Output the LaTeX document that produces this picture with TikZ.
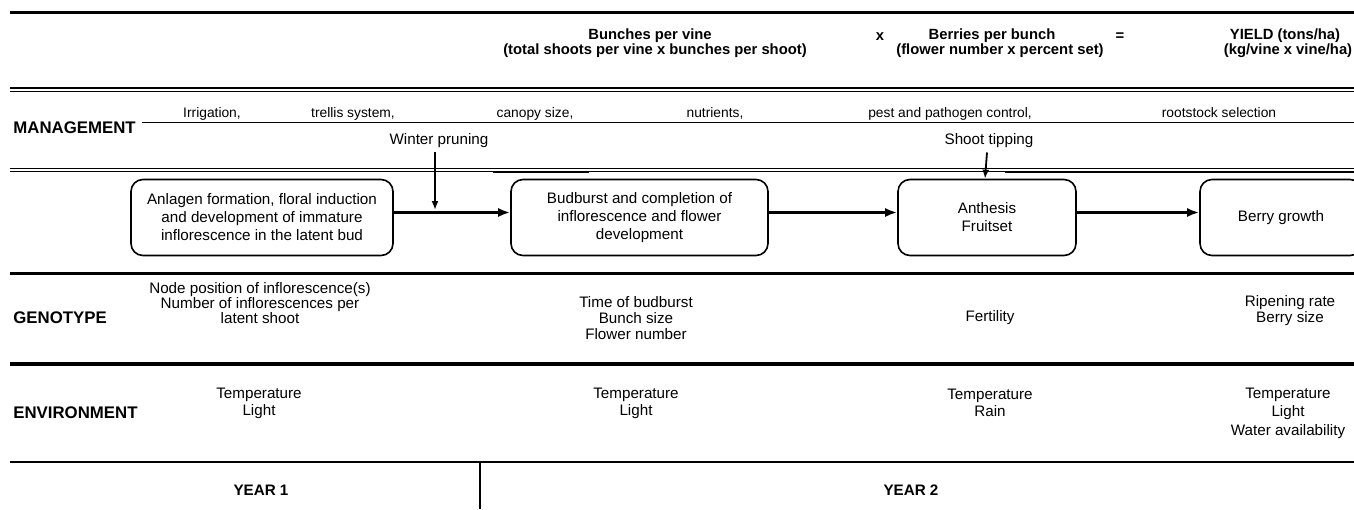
\documentclass[tikz,border=0pt]{standalone}
\usepackage{fontspec}
\setmainfont{Liberation Sans}
\usepackage{tikz}
\usetikzlibrary{arrows.meta}
\usetikzlibrary{positioning}
\newcommand{\txtsmall}{\fontsize{7.6}{7.5}\selectfont}
\newcommand{\txtmgmt}{\fontsize{6.9}{7}\selectfont}
\newcommand{\txtbox}{\fontsize{7.6}{9}\selectfont}
\newcommand{\txthead}{\fontsize{7.4}{7}\selectfont\bfseries}
\tikzstyle{stage}=[draw,line width=0.8pt,rounded corners=6pt,align=center,inner sep=0pt,minimum height=38pt,font=\txtbox]
\tikzstyle{factor}=[align=center,inner sep=0pt,font=\txtsmall]
\tikzstyle{rowname}=[anchor=west,inner sep=0pt,font=\fontsize{8.4}{8}\selectfont\bfseries]
\tikzstyle{header}=[inner sep=0pt,font=\txthead]
\tikzstyle{practice}=[anchor=base,inner sep=0pt,font=\txtmgmt]
\tikzstyle{flow}=[draw,line width=1.2pt,-{Latex[length=6pt,width=4.5pt]}]
\tikzstyle{prune}=[draw,line width=0.9pt,-{Latex[length=4.5pt,width=3.5pt]}]

\begin{document}
\begin{tikzpicture}[x=0.5pt,y=-0.5pt]
    \useasboundingbox (0,0) rectangle (1354,509);
    \clip (0,0) rectangle (1354,509);

    % rules across the table
    \draw[line width=1.3pt] (10,12.5) -- (1354,12.5);
    \draw[line width=0.9pt] (10,88) -- (1354,88);
    \draw[line width=0.5pt] (10,91) -- (1354,91);
    \draw[line width=0.8pt] (142,122.5) -- (1354,122.5);
    \draw[line width=0.9pt] (10,168.5) -- (1354,168.5);
    \draw[line width=0.5pt] (10,171) -- (1354,171);
    \draw[line width=0.5pt] (493,172) -- (589,172);
    \draw[line width=0.5pt] (1005,172) -- (1354,172);
    \draw[line width=1.5pt] (10,273) -- (1354,273);
    \draw[line width=1.6pt] (10,364) -- (1354,364);
    \draw[line width=0.9pt] (10,462) -- (1354,462);
    \draw[line width=1.4pt] (142,462) -- (480,462);
    \draw[line width=1.2pt] (480,462) -- (480,509);

    % yield components
    \node[header] (bunches) at (650,36) {Bunches per vine};
    \node[header] (bunchesnote) at (655,51) {(total shoots per vine x bunches per shoot)};
    \node[header] (times) at (880,37) {x};
    \node[header] (berries) at (992,36) {Berries per bunch};
    \node[header] (berriesnote) at (1000,51) {(flower number x percent set)};
    \node[header] (equals) at (1120,37) {=};
    \node[header] (yield) at (1285,36) {YIELD (tons/ha)};
    \node[header] (yieldnote) at (1288,51) {(kg/vine x vine/ha)};

    % management
    \node[rowname] (management) at (13,128) {MANAGEMENT};
    \node[practice] (irrigation) at (212,117.5) {Irrigation,};
    \node[practice] (trellis) at (353,117.5) {trellis system,};
    \node[practice] (canopy) at (535,117.5) {canopy size,};
    \node[practice] (nutrients) at (715,117.5) {nutrients,};
    \node[practice] (pest) at (950,117.5) {pest and pathogen control,};
    \node[practice] (rootstock) at (1219,117.5) {rootstock selection};
    \node[factor] (pruning) at (439,141) {Winter pruning};
    \node[factor] (tipping) at (989,141) {Shoot tipping};

    % stages
    \node[stage,minimum width=131pt] (anlagen) at (262,217.5) {Anlagen formation, floral induction\\and development of immature\\inflorescence in the latent bud};
    \node[stage,minimum width=128.5pt] (budburst) at (639.5,217.5) {Budburst and completion of\\inflorescence and flower\\development};
    \node[stage,minimum width=89pt] (anthesis) at (987,217.5) {Anthesis\\Fruitset};
    \node[stage,minimum width=81pt] (berrygrowth) at (1281,217.5) {Berry growth};

    \coordinate (pruneend) at (435,210);
    \path[flow] ([yshift=2.5pt]anlagen.east) -- ([yshift=2.5pt]budburst.west);
    \path[flow] ([yshift=2.5pt]budburst.east) -- ([yshift=2.5pt]anthesis.west);
    \path[flow,line width=1.8pt] ([yshift=2.5pt]anthesis.east) -- ([yshift=2.5pt]berrygrowth.west);
    \path[prune] ([yshift=-2pt]pruning.south -| pruneend) -- (pruneend);
    \path[prune] ([xshift=-1pt,yshift=-2pt]tipping.south) -- ([xshift=-1pt]anthesis.north);

    % genotype
    \node[rowname] (genotype) at (13,318) {GENOTYPE};
    \node[factor] (gen1) at (260,303) {Node position of inflorescence(s)\\Number of inflorescences per\\latent shoot};
    \node[factor,font=\fontsize{7.6}{8}\selectfont] (gen2) at (636,318) {Time of budburst\\Bunch size\\Flower number};
    \node[factor] (gen3) at (990,318) {Fertility};
    \node[factor,font=\fontsize{7.6}{8}\selectfont] (gen4) at (1290,311) {Ripening rate\\Berry size};

    % environment
    \node[rowname] (environment) at (13,413) {ENVIRONMENT};
    \node[factor,font=\fontsize{7.6}{8.5}\selectfont] (env1) at (259,403) {Temperature\\Light};
    \node[factor,font=\fontsize{7.6}{8.5}\selectfont] (env2) at (636,403) {Temperature\\Light};
    \node[factor,font=\fontsize{7.6}{8.5}\selectfont] (env3) at (990,403) {Temperature\\Rain};
    \node[factor,font=\fontsize{7.6}{9.2}\selectfont] (env4) at (1288,413) {Temperature\\Light\\Water availability};

    % years
    \node[rowname,anchor=center,font=\fontsize{7.6}{8}\selectfont\bfseries] (year1) at (261,490) {YEAR 1};
    \node[rowname,anchor=center,font=\fontsize{7.6}{8}\selectfont\bfseries] (year2) at (911,490) {YEAR 2};
\end{tikzpicture}
\end{document}
